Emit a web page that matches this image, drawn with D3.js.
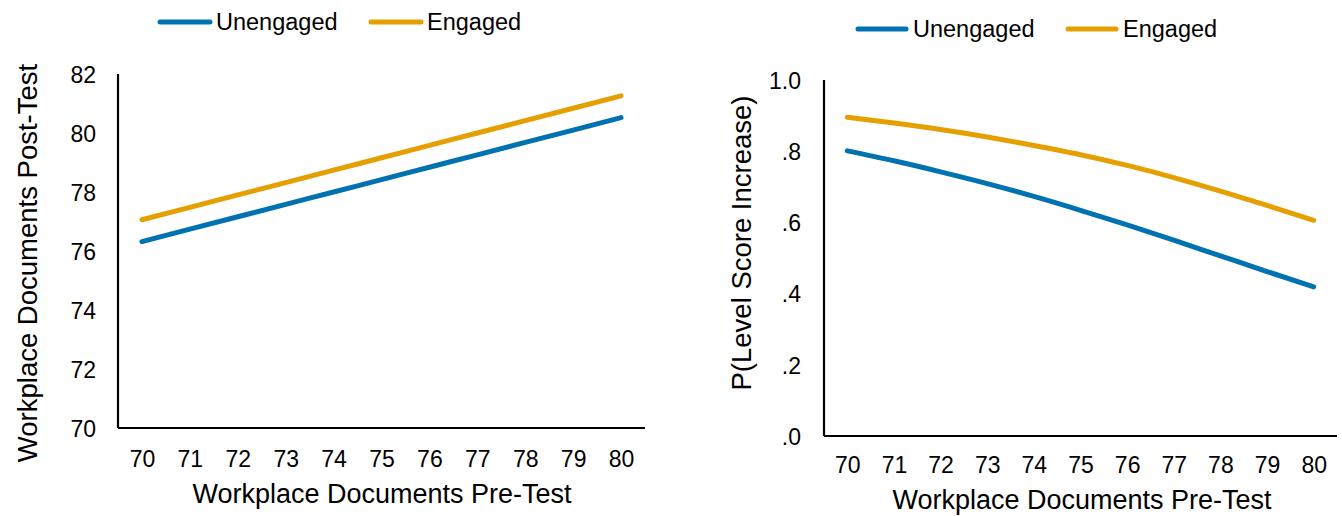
<!DOCTYPE html>
<html>
<head>
<meta charset="utf-8">
<script src="https://cdn.jsdelivr.net/npm/d3@7"></script>
<style>
  html, body { margin: 0; padding: 0; background: #fff; }
  svg { display: block; }
  text { font-family: "Liberation Sans", Arial, sans-serif; fill: #000; }
</style>
</head>
<body>
<svg id="chart" width="1342" height="516"></svg>
<script>
// ---- data ----
const categories = ["70", "71", "72", "73", "74", "75", "76", "77", "78", "79", "80"];
const seriesNames = ["Unengaged", "Engaged"];
const seriesColors = ["#0072B2", "#E69F00"];

// Left panel: Workplace Documents Post-Test
const leftUnengaged = [76.32, 76.74, 77.16, 77.58, 78.00, 78.42, 78.84, 79.26, 79.68, 80.10, 80.52];
const leftEngaged   = [77.06, 77.48, 77.90, 78.32, 78.74, 79.16, 79.58, 80.00, 80.42, 80.84, 81.26];
const leftYTicks = [70, 72, 74, 76, 78, 80, 82];

// Right panel: P(Level Score Increase)
const rightUnengaged = [0.801, 0.773, 0.742, 0.709, 0.673, 0.634, 0.593, 0.550, 0.506, 0.462, 0.419];
const rightEngaged   = [0.895, 0.879, 0.861, 0.840, 0.816, 0.790, 0.760, 0.726, 0.688, 0.648, 0.606];
const rightYTicks = [0, 0.2, 0.4, 0.6, 0.8, 1.0];

const xTitle = "Workplace Documents Pre-Test";
const leftYTitle = "Workplace Documents Post-Test";
const rightYTitle = "P(Level Score Increase)";

// ---- drawing ----
const svg = d3.select("#chart");

function panel(cfg) {
  const g = svg.append("g");
  const x = d3.scalePoint().domain(categories).range([cfg.x0, cfg.x1]).padding(0.5);
  const y = d3.scaleLinear().domain(cfg.yDomain).range([cfg.yBottom, cfg.yTop]);

  // y tick labels
  const yAxis = d3.axisLeft(y).tickValues(cfg.yTicks).tickSize(0).tickPadding(0).tickFormat(cfg.yFormat);
  const ya = g.append("g").attr("transform", `translate(${cfg.yLabelX},0)`).call(yAxis);
  ya.select(".domain").remove();
  ya.selectAll("text").attr("font-size", 23).attr("font-family", "Liberation Sans, Arial, sans-serif").attr("fill", "#000").attr("dy", "0.36em");

  // x tick labels
  const xAxis = d3.axisBottom(x).tickSize(0).tickPadding(0);
  const xa = g.append("g").attr("transform", `translate(0,${cfg.xLabelY})`).call(xAxis);
  xa.select(".domain").remove();
  xa.selectAll("text").attr("font-size", 23).attr("font-family", "Liberation Sans, Arial, sans-serif").attr("fill", "#000").attr("dy", "0.36em");

  // axis lines
  g.append("line").attr("x1", cfg.x0).attr("x2", cfg.x0).attr("y1", cfg.yTop).attr("y2", cfg.yBottom)
    .attr("stroke", "#000").attr("stroke-width", 2.2);
  g.append("line").attr("x1", cfg.x0).attr("x2", cfg.x1).attr("y1", cfg.yBottom).attr("y2", cfg.yBottom)
    .attr("stroke", "#000").attr("stroke-width", 2.2);

  // lines
  const line = d3.line().x((d, i) => x(categories[i])).y(d => y(d)).curve(d3.curveMonotoneX);
  cfg.series.forEach((vals, i) => {
    g.append("path").datum(vals).attr("d", line)
      .attr("fill", "none").attr("stroke", seriesColors[i]).attr("stroke-width", 5)
      .attr("stroke-linecap", "round").attr("stroke-linejoin", "round");
  });

  // x title
  g.append("text").attr("x", cfg.xTitleX).attr("y", cfg.xTitleBaseline)
    .attr("text-anchor", "middle").attr("font-size", 27).text(xTitle);

  // y title
  g.append("text").attr("transform", `translate(${cfg.yTitleBaselineX},${cfg.yTitleY}) rotate(-90)`)
    .attr("text-anchor", "middle").attr("font-size", cfg.yTitleSize).text(cfg.yTitle);

  // legend
  cfg.legend.forEach((L, i) => {
    g.append("line").attr("x1", L.lx0).attr("x2", L.lx1).attr("y1", cfg.legendY).attr("y2", cfg.legendY)
      .attr("stroke", seriesColors[i]).attr("stroke-width", 5).attr("stroke-linecap", "round");
    g.append("text").attr("x", L.tx).attr("y", cfg.legendY).attr("dy", "0.36em")
      .attr("font-size", 23.5).text(seriesNames[i]);
  });
}

panel({
  x0: 118, x1: 645, yTop: 74, yBottom: 428,
  yDomain: [70, 82], yTicks: leftYTicks, yFormat: d3.format("d"),
  yLabelX: 96, xLabelY: 459,
  series: [leftUnengaged, leftEngaged],
  xTitleX: 382, xTitleBaseline: 503,
  yTitle: leftYTitle, yTitleBaselineX: 37, yTitleY: 263, yTitleSize: 27.5,
  legendY: 22,
  legend: [{lx0: 160, lx1: 210, tx: 216}, {lx0: 371, lx1: 421, tx: 427}]
});

panel({
  x0: 824, x1: 1337, yTop: 80, yBottom: 436,
  yDomain: [0, 1], yTicks: rightYTicks,
  yFormat: d => d === 1 ? "1.0" : d3.format(".1f")(d).replace(/^0/, ""),
  yLabelX: 801, xLabelY: 465,
  series: [rightUnengaged, rightEngaged],
  xTitleX: 1082, xTitleBaseline: 509,
  yTitle: rightYTitle, yTitleBaselineX: 751, yTitleY: 243, yTitleSize: 27.5,
  legendY: 29,
  legend: [{lx0: 858, lx1: 906, tx: 913}, {lx0: 1068, lx1: 1116, tx: 1123}]
});
</script>
</body>
</html>
